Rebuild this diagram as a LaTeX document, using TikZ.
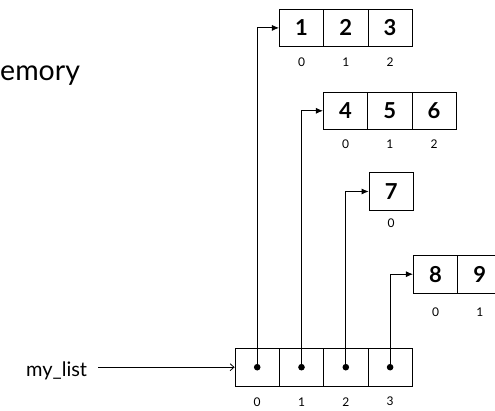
\documentclass[tikz,border=0pt]{standalone}
\usepackage{fontspec}
\setmainfont{Lato}
\usetikzlibrary{arrows.meta}

\begin{document}
\begin{tikzpicture}[x=1pt, y=-1pt,
  cell/.style={draw, line width=0.8pt, minimum width=44.3pt, minimum height=37.7pt,
    inner sep=0pt, font=\fontsize{22}{24}\selectfont\bfseries},
  idx/.style={inner sep=0pt, font=\fontsize{12}{14}\selectfont},
  dot/.style={circle, fill=black, inner sep=0pt, minimum size=6.6pt},
  ptr/.style={line width=0.8pt, -{Latex[length=7pt,width=6pt]}},
  ref/.style={line width=0.8pt, -{Straight Barb[length=4pt,width=7pt]}}]
  \clip (0,0) rectangle (495,411);
  \useasboundingbox (0,0) rectangle (495,411);

  % heading (its first letter runs past the left edge) and variable name
  \node[anchor=base west, inner sep=0pt, font=\fontsize{28.5}{30}\selectfont] (mem) at (0,81) {\llap{M}emory};
  \node[anchor=base east, inner sep=0pt, font=\fontsize{20}{24}\selectfont] (ml) at (87.3,376) {my\_list};

  % outer list: four reference cells
  \foreach \i/\x in {0/257.2,1/301.5,2/345.8,3/390.1} {
    \node[cell] (l\i) at (\x,367.2) {};
    \node[dot] (d\i) at (l\i.center) {};
    \node[idx] at ([yshift=-34.5pt]l\i.center) {\i};
  }

  % inner list [1, 2, 3]
  \foreach \i/\x/\v in {0/301.5/1,1/345.8/2,2/390.1/3} {
    \node[cell] (a\i) at (\x,27.9) {\v};
    \node[idx] at ([yshift=-34pt]a\i.center) {\i};
  }
  % inner list [4, 5, 6]
  \foreach \i/\x/\v in {0/345.5/4,1/389.8/5,2/434.1/6} {
    \node[cell] (b\i) at (\x,110.8) {\v};
    \node[idx] at ([yshift=-33pt]b\i.center) {\i};
  }
  % inner list [7]
  \node[cell] (c0) at (391.2,191.5) {7};
  \node[idx] at ([yshift=-32pt]c0.center) {0};
  % inner list [8, 9]
  \foreach \i/\x/\v in {0/435.5/8,1/479.8/9} {
    \node[cell] (e\i) at (\x,274.2) {\v};
    \node[idx] at ([yshift=-37.5pt]e\i.center) {\i};
  }

  % references
  \draw[ptr] (d0.center) |- (a0.west);
  \draw[ptr] (d1.center) |- (b0.west);
  \draw[ptr] (d2.center) |- (c0.west);
  \draw[ptr] (d3.center) |- (e0.west);

  \coordinate (mlstart) at (98.3,367.2);
  \draw[ref] (mlstart) -- (l0.west);
\end{tikzpicture}
\end{document}
